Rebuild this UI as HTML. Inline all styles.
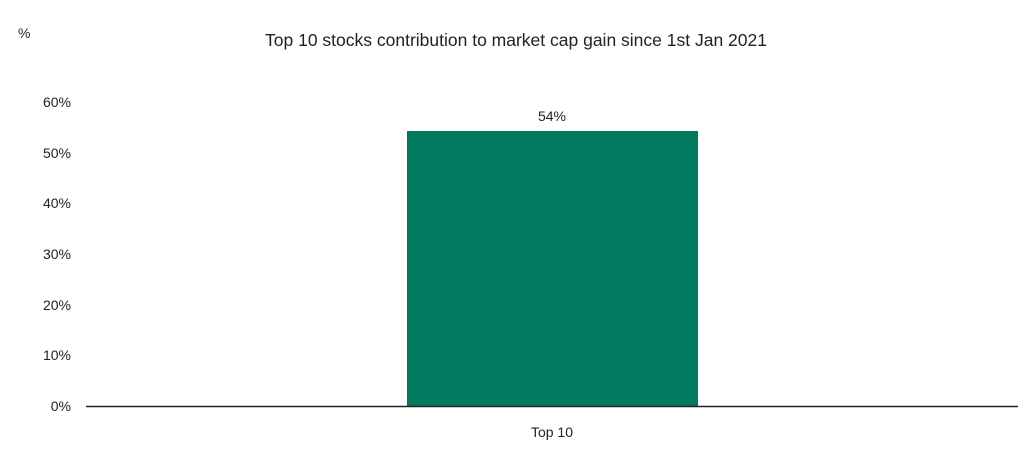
<!DOCTYPE html>
<html><head><meta charset="utf-8"><style>
body{margin:0;background:#fff;}
svg text{font-family:"Liberation Sans",sans-serif;fill:#222;}
</style></head><body>
<svg width="1030" height="459" xmlns="http://www.w3.org/2000/svg">
<rect width="1030" height="459" fill="#fff"/>
<text x="18" y="38" font-size="14">%</text>
<text x="516" y="46" font-size="17.5" text-anchor="middle">Top 10 stocks contribution to market cap gain since 1st Jan 2021</text>
<g font-size="14" text-anchor="end">
<text x="71" y="411">0%</text>
<text x="71" y="360">10%</text>
<text x="71" y="310">20%</text>
<text x="71" y="259">30%</text>
<text x="71" y="208">40%</text>
<text x="71" y="158">50%</text>
<text x="71" y="107">60%</text>
</g>
<rect x="407" y="131" width="291" height="275" fill="#007a5e"/>
<line x1="86" y1="406.5" x2="1018" y2="406.5" stroke="#222" stroke-width="1.5"/>
<text x="552" y="121" font-size="14" text-anchor="middle">54%</text>
<text x="552" y="437" font-size="14" text-anchor="middle">Top 10</text>
</svg>
</body></html>
